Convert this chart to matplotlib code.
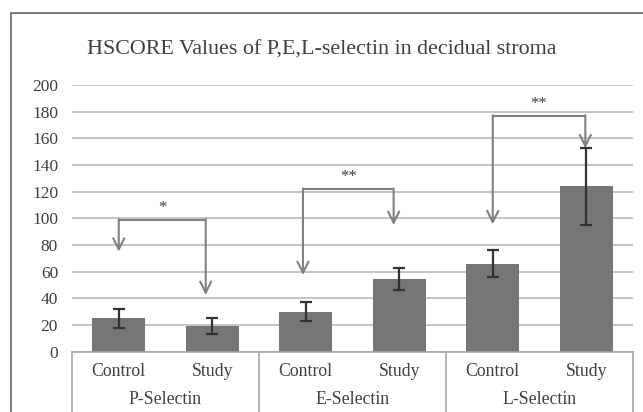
# HSCORE de P, E, L-selectina en estroma decidual

import matplotlib.pyplot as plt
from matplotlib.patches import Rectangle

# Datos
groups = ['P-Selectin', 'E-Selectin', 'L-Selectin']
subgroups = ['Control', 'Study']
means = [25, 19, 30, 54.5, 66, 124]
errors = [7, 6, 7, 8, 10, 29]

# Corchetes de significancia: altura, punta izquierda, punta derecha
bracket_left_x = [0.0, 1.97, 4.0]
bracket_right_x = [0.93, 2.94, 4.99]
bracket_top = [99, 122, 177]
tip_left = [75, 57.5, 95.5]
tip_right = [42.5, 95, 152.5]
stars = ['*', '**', '**']

plt.rcParams['font.family'] = ['Liberation Serif', 'DejaVu Serif']
text_col = '#404040'
gray = '#808080'

fig = plt.figure(figsize=(6.43, 4.12), dpi=100)
ax = fig.add_axes([72 / 643, 1 - 351.7 / 412, 561 / 643, 266.7 / 412])

# marco exterior del gráfico
fig.patches.append(Rectangle((11 / 643, -0.2), 2, 1 - 13 / 412 + 0.2,
                             transform=fig.transFigure, fill=False,
                             edgecolor='#707070', lw=1.3))

x = list(range(len(means)))
ax.bar(x, means, width=0.57, color='#767676', zorder=2)
ax.errorbar(x, means, yerr=errors, fmt='none', ecolor='#333333',
            elinewidth=1.6, capsize=4, capthick=1.6, zorder=3)

ax.set_xlim(-0.5, 5.5)
ax.set_ylim(0, 200)
ax.set_yticks(range(0, 201, 20))
ax.yaxis.grid(True, color='#c4c4c4', lw=1.4)
ax.set_axisbelow(True)
ax.tick_params(axis='y', length=0, pad=10, labelsize=12.5, labelcolor=text_col)
ax.set_xticks([])
for s in ['top', 'right', 'left']:
    ax.spines[s].set_visible(False)
ax.spines['bottom'].set_color('#a6a6a6')
ax.spines['bottom'].set_linewidth(1.2)

# eje de categorías en dos niveles
tr = ax.get_xaxis_transform()
for d in [-0.5, 1.5, 3.5, 5.5]:
    ax.plot([d, d], [0, -0.3], transform=tr, color='#a6a6a6', lw=1.2, clip_on=False)
for i, xi in enumerate(x):
    ax.text(xi, -0.075, subgroups[i % 2], transform=tr, ha='center', va='center',
            fontsize=12.8, color=text_col)
for g, name in enumerate(groups):
    ax.text(2 * g + 0.5, -0.18, name, transform=tr, ha='center', va='center',
            fontsize=12.8, color=text_col)

# corchetes con flechas
for i in range(3):
    xl, xr, top = bracket_left_x[i], bracket_right_x[i], bracket_top[i]
    ax.plot([xl, xr], [top, top], color=gray, lw=1.5, zorder=4, solid_capstyle='butt')
    for xx, tip in [(xl, tip_left[i]), (xr, tip_right[i])]:
        ax.annotate('', xy=(xx, tip), xytext=(xx, top + 0.4),
                    arrowprops=dict(arrowstyle='->,head_length=0.8,head_width=0.4',
                                    color=gray, lw=1.5, shrinkA=0, shrinkB=0),
                    zorder=4)
    ax.text((xl + xr) / 2, top + 9, stars[i], ha='center', va='center',
            fontsize=12, color=text_col)

fig.text(0.5, 1 - 50 / 412, 'HSCORE Values of P,E,L-selectin in decidual stroma',
         ha='center', va='center', fontsize=15.8, color=text_col)

fig.savefig('out.png', dpi=100)
